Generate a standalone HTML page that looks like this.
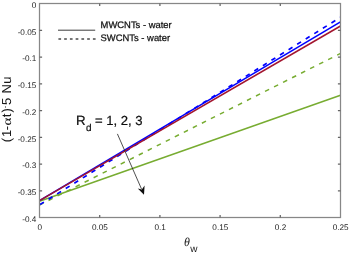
<!DOCTYPE html>
<html><head><meta charset="utf-8">
<style>
html,body{margin:0;padding:0;background:#fff;width:350px;height:253px;overflow:hidden;}
svg{display:block;}
text{font-family:"Liberation Sans",sans-serif;text-rendering:geometricPrecision;}
</style></head>
<body>
<svg width="350" height="253" viewBox="0 0 350 253">
<defs><filter id="bl" filterUnits="userSpaceOnUse" x="0" y="0" width="350" height="253"><feGaussianBlur stdDeviation="0.45"/></filter></defs>
<rect width="350" height="253" fill="#fff"/>
<g filter="url(#bl)">
<!-- data lines -->
<g fill="none" stroke-linecap="butt">
<line x1="39.5" y1="201.2" x2="340.5" y2="95.3" stroke="#77ac30" stroke-width="1.5"/>
<line x1="39.5" y1="205" x2="340.5" y2="53.4" stroke="#77ac30" stroke-width="1.5" stroke-dasharray="4.6 5.5"/>
<line x1="39.5" y1="200.6" x2="340.5" y2="21.9" stroke="#0000ff" stroke-width="1.6"/>
<line x1="39.5" y1="204.9" x2="340.5" y2="17.3" stroke="#0000ff" stroke-width="1.7" stroke-dasharray="4.6 5.5" stroke-dashoffset="-0.6"/>
<line x1="39.5" y1="200.6" x2="340.5" y2="26" stroke="#a2142f" stroke-width="1.5"/>
</g>
<!-- axes box -->
<g stroke="#878787" stroke-width="1.25" fill="none">
<rect x="39.5" y="3.5" width="301" height="214"/>
</g>
<!-- ticks -->
<g stroke="#666" stroke-width="1.25">
<path d="M99.7 217.5v-2.6M99.7 3.5v2.6M159.9 217.5v-2.6M159.9 3.5v2.6M220.1 217.5v-2.6M220.1 3.5v2.6M280.3 217.5v-2.6M280.3 3.5v2.6M39.5 30.25h2.6M340.5 30.25h-2.6M39.5 57.00h2.6M340.5 57.00h-2.6M39.5 83.75h2.6M340.5 83.75h-2.6M39.5 110.50h2.6M340.5 110.50h-2.6M39.5 137.25h2.6M340.5 137.25h-2.6M39.5 164.00h2.6M340.5 164.00h-2.6M39.5 190.75h2.6M340.5 190.75h-2.6"/>
</g>
<!-- y tick labels -->
<g font-size="8.2" fill="#262626" text-anchor="end">
<text x="36.3" y="7.7">0</text>
<text x="36.3" y="34.5">-0.05</text>
<text x="36.3" y="61.2">-0.1</text>
<text x="36.3" y="88.0">-0.15</text>
<text x="36.3" y="114.7">-0.2</text>
<text x="36.3" y="141.5">-0.25</text>
<text x="36.3" y="168.2">-0.3</text>
<text x="36.3" y="195.0">-0.35</text>
<text x="36.3" y="221.7">-0.4</text>
</g>
<!-- x tick labels -->
<g font-size="8.2" fill="#262626" text-anchor="middle">
<text x="39.8" y="230.3">0</text>
<text x="99.9" y="230.3">0.05</text>
<text x="160.1" y="230.3">0.1</text>
<text x="220.3" y="230.3">0.15</text>
<text x="280.5" y="230.3">0.2</text>
<text x="340.7" y="230.3">0.25</text>
</g>
<!-- x label -->
<text x="183.9" y="246.2" font-size="12" fill="#222" font-family="Liberation Serif" font-style="italic" style="font-family:'Liberation Serif',serif">θ</text>
<text x="190.2" y="251.9" font-size="10" fill="#222">w</text>
<!-- y label -->
<g transform="translate(11.3,142) rotate(-90)" font-size="13" fill="#151515">
<text x="-0.3" y="0">(</text>
<text x="4.9" y="0">1</text>
<text x="11.8" y="0">-</text>
<text transform="translate(16.5,0) scale(1.25,1)" font-size="12" style="font-family:'Liberation Serif',serif">α</text>
<text x="24.8" y="0">t</text>
<text x="29.5" y="0">)</text>
<text x="33.7" y="-5.5" font-size="9.5">.</text>
<text x="37.1" y="0">5</text>
<text x="48.5" y="0">N</text>
<text x="58.2" y="0">u</text>
</g>
<!-- legend -->
<line x1="58" y1="30.2" x2="95.2" y2="30.2" stroke="#3c3c3c" stroke-width="1"/>
<line x1="58.4" y1="38.9" x2="96" y2="38.9" stroke="#4a4a4a" stroke-width="1.5" stroke-dasharray="2.7 3.05"/>
<text x="100.6" y="28.4" font-size="9.42" fill="#111" stroke="#111" stroke-width="0.25">MWCNTs - water</text>
<text x="100.6" y="40.5" font-size="9.42" fill="#111" stroke="#111" stroke-width="0.25">SWCNTs - water</text>
<!-- annotation -->
<text x="76.1" y="124.7" font-size="13.3" fill="#111" stroke="#111" stroke-width="0.22">R<tspan dx="0.4" dy="6.4" font-size="10">d</tspan><tspan dx="-0.4" dy="-6.4" font-size="13.1"> = 1, 2, 3</tspan></text>
<line x1="117.4" y1="133.9" x2="141.5" y2="189" stroke="#222" stroke-width="0.8"/>
<path d="M144 194.7 L137.8 188.5 L141.8 189.6 L144.6 185.4 Z" fill="#111"/>
</g>
</svg>
</body></html>
